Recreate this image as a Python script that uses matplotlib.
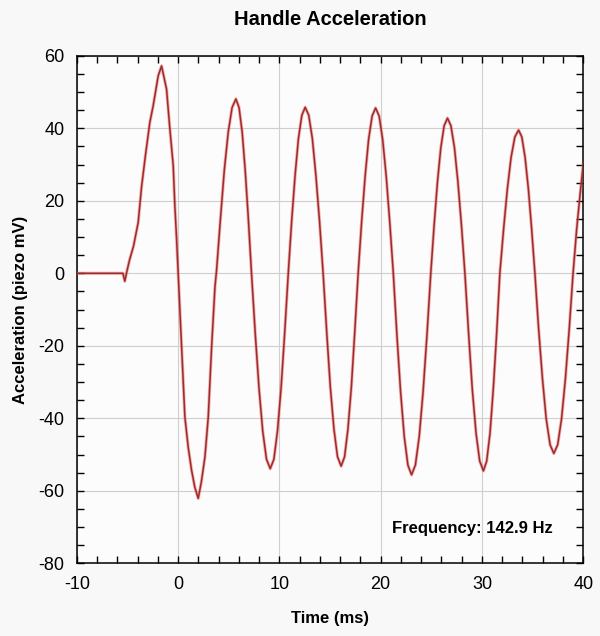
import matplotlib
matplotlib.use("Agg")
import matplotlib.pyplot as plt
from matplotlib.ticker import MultipleLocator

plt.rcParams['font.family'] = ['Liberation Sans', 'DejaVu Sans']
plt.rcParams['axes.unicode_minus'] = False

# Time (ms) and acceleration (piezo mV)
time_ms = [
    -10.0, -5.45, -5.26, -5.1, -4.79, -4.4, -3.94, -3.6, -3.2, -2.79, -2.46, -1.96, -1.63,
    -1.14, -0.81, -0.48, -0.32, -0.15, 0.0, 0.34, 0.67, 1.0, 1.33, 1.65, 1.99,
    2.3, 2.65, 2.98, 3.31, 3.64, 3.8,
    4.18, 4.56, 4.95, 5.33, 5.71,
    6.02, 6.33, 6.63, 6.94, 7.25,
    7.62, 7.99, 8.36, 8.73, 9.1,
    9.46, 9.81, 10.17, 10.52, 10.88,
    11.21, 11.55, 11.88, 12.22, 12.55,
    12.9, 13.26, 13.61, 13.97, 14.32,
    14.68, 15.03, 15.39, 15.74, 16.1,
    16.44, 16.77, 17.11, 17.44, 17.78,
    18.12, 18.47, 18.81, 19.16, 19.5,
    19.85, 20.2, 20.55, 20.9, 21.25,
    21.61, 21.97, 22.33, 22.69, 23.05,
    23.43, 23.81, 24.19, 24.57, 24.95,
    25.28, 25.61, 25.94, 26.27, 26.6,
    26.94, 27.29, 27.63, 27.98, 28.32,
    28.69, 29.05, 29.42, 29.78, 30.15,
    30.47, 30.8, 31.12, 31.45, 31.77,
    32.14, 32.51, 32.88, 33.25, 33.62,
    33.94, 34.26, 34.59, 34.91, 35.23,
    35.6, 35.98, 36.35, 36.73, 37.1,
    37.48, 37.86, 38.24, 38.62, 39.0,
    39.35, 39.7, 40.0,
]
accel_mv = [
    0.0, 0.0, -2.2, 0.0, 3.7, 7.5, 14.0, 24.0, 33.0, 41.6, 46.2, 54.5, 57.2,
    50.8, 39.8, 29.7, 18.7, 9.6, 0.5, -20.4, -39.6, -48.0, -54.3, -59.0, -62.1,
    -57.5, -50.7, -39.6, -20.4, -3.8, 0.8,
    14.9, 28.3, 38.9, 45.7, 48.1,
    45.7, 38.9, 28.3, 14.9, 0.0,
    -16.7, -31.7, -43.6, -51.3, -53.9,
    -51.3, -43.6, -31.7, -16.7, 0.0,
    14.2, 26.9, 37.1, 43.6, 45.8,
    43.6, 37.1, 26.9, 14.2, 0.0,
    -16.4, -31.3, -43.0, -50.6, -53.2,
    -50.6, -43.0, -31.3, -16.4, 0.0,
    14.1, 26.8, 36.9, 43.4, 45.6,
    43.4, 36.9, 26.8, 14.1, 0.0,
    -17.2, -32.7, -45.0, -52.9, -55.6,
    -52.9, -45.0, -32.7, -17.2, 0.0,
    13.2, 25.2, 34.6, 40.7, 42.8,
    40.7, 34.6, 25.2, 13.2, 0.0,
    -16.8, -32.0, -44.1, -51.8, -54.5,
    -51.8, -44.1, -32.0, -16.8, 0.0,
    12.2, 23.2, 32.0, 37.6, 39.5,
    37.6, 32.0, 23.2, 12.2, 0.0,
    -15.4, -29.2, -40.2, -47.3, -49.7,
    -47.3, -40.2, -29.2, -15.4, 0.0,
    12.0, 22.0, 30.0,
]

x_ticks = [-10, 0, 10, 20, 30, 40]
y_ticks = [-80, -60, -40, -20, 0, 20, 40, 60]

fig = plt.figure(figsize=(6.0, 6.36), dpi=100, facecolor='#f8f8f8')
ax = fig.add_axes([0.128, 0.1143, 0.844, 0.798])
ax.set_facecolor('#fcfcfc')

ax.plot(time_ms, accel_mv, color='#e86060', lw=2.3, alpha=0.5, solid_joinstyle='round', zorder=3)
ax.plot(time_ms, accel_mv, color='#9c2b2b', lw=1.1, solid_joinstyle='round', zorder=4)

ax.set_xlim(-10, 40)
ax.set_ylim(-80, 60)
ax.set_xticks(x_ticks)
ax.set_yticks(y_ticks)
ax.xaxis.set_minor_locator(MultipleLocator(2))
ax.yaxis.set_minor_locator(MultipleLocator(5))
ax.grid(True, which='major', color='#cfcfcf', lw=0.8, zorder=0)

ax.tick_params(which='both', direction='in', top=True, right=True, length=5, width=1.0, color='black')
ax.tick_params(axis='x', which='major', pad=9, labelsize=13)
ax.tick_params(axis='y', which='major', pad=9, labelsize=13)
for s in ax.spines.values():
    s.set_linewidth(1.1)

ax.set_title('Handle Acceleration', fontsize=14.5, fontweight='bold', pad=22)
ax.set_xlabel('Time (ms)', fontsize=12, fontweight='bold', labelpad=13)
ax.set_ylabel('Acceleration (piezo mV)', fontsize=12, fontweight='bold', labelpad=7)

ax.text(0.939, 0.068, 'Frequency: 142.9 Hz', transform=ax.transAxes, ha='right', va='center',
        fontsize=12, fontweight='bold')

fig.savefig('out.png', dpi=100, facecolor=fig.get_facecolor())
